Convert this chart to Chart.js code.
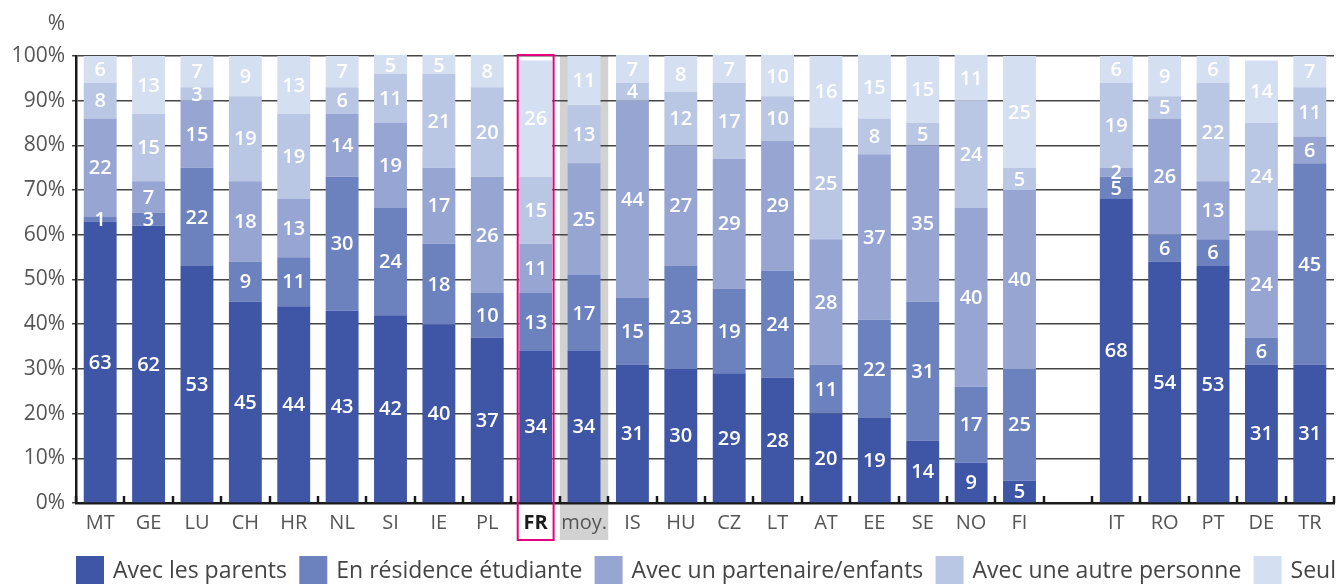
<!DOCTYPE html>
<html lang="fr">
<head>
<meta charset="utf-8">
<title>Mode de logement des étudiants</title>
<script src="https://cdn.jsdelivr.net/npm/chart.js@4.4.1/dist/chart.umd.min.js"></script>
<style>
  html, body { margin: 0; padding: 0; background: #fff; }
  #wrap { width: 1338px; height: 584px; position: relative; }
</style>
</head>
<body>
<div id="wrap"><canvas id="chart" width="1338" height="584"></canvas></div>
<script>
// Pays (un emplacement vide sépare les deux groupes)
const categories = ['MT','GE','LU','CH','HR','NL','SI','IE','PL','FR','moy.','IS','HU','CZ','LT','AT','EE','SE','NO','FI','','IT','RO','PT','DE','TR'];

// Parts en % par mode de logement
const avecParents        = [63,62,53,45,44,43,42,40,37,34,34,31,30,29,28,20,19,14, 9, 5,null,68,54,53,31,31];
const residenceEtudiante = [ 1, 3,22, 9,11,30,24,18,10,13,17,15,23,19,24,11,22,31,17,25,null, 5, 6, 6, 6,45];
const partenaireEnfants  = [22, 7,15,18,13,14,19,17,26,11,25,44,27,29,29,28,37,35,40,40,null, 2,26,13,24, 6];
const autrePersonne      = [ 8,15, 3,19,19, 6,11,21,20,15,13, 4,12,17,10,25, 8, 5,24, 5,null,19, 5,22,24,11];
const seul               = [ 6,13, 7, 9,13, 7, 5, 5, 8,26,11, 7, 8, 7,10,16,15,15,11,25,null, 6, 9, 6,14, 7];

const seriesLabels = ['Avec les parents','En résidence étudiante','Avec un partenaire/enfants','Avec une autre personne','Seul'];
const seriesColors = ['#3f56a6','#6c82bf','#97a5d3','#b9c7e5','#d4dff1'];

const yTicks = [0,10,20,30,40,50,60,70,80,90,100];

const FONT = "'Open Sans', 'Noto Sans', sans-serif";
const highlighted = 'FR';
const average = 'moy.';

// Fond gris de la colonne moyenne, sous la grille
const averageBand = {
  id: 'averageBand',
  beforeDraw(chart) {
    const idx = categories.indexOf(average);
    const x = chart.scales.x;
    const slot = x.width / categories.length;
    const cx = x.getPixelForValue(idx);
    const ctx = chart.ctx;
    ctx.save();
    ctx.fillStyle = '#d2d2d2';
    ctx.fillRect(cx - slot / 2, chart.chartArea.top, slot, chart.chartArea.bottom + 37 - chart.chartArea.top);
    ctx.restore();
  }
};

// Petits traits verticaux entre les colonnes, au-dessus de l'axe
const slotTicks = {
  id: 'slotTicks',
  afterDatasetsDraw(chart) {
    const x = chart.scales.x;
    const slot = x.width / categories.length;
    const b = chart.chartArea.bottom;
    const ctx = chart.ctx;
    ctx.save();
    ctx.strokeStyle = '#1a1a1a';
    ctx.lineWidth = 2.5;
    for (let i = 0; i <= categories.length; i++) {
      const px = Math.round(x.left + i * slot);
      ctx.beginPath();
      ctx.moveTo(px, b - 7);
      ctx.lineTo(px, b);
      ctx.stroke();
    }
    ctx.restore();
  }
};

// Valeurs écrites au centre de chaque segment
const segmentValues = {
  id: 'segmentValues',
  afterDatasetsDraw(chart) {
    const ctx = chart.ctx;
    const top = chart.chartArea.top;
    ctx.save();
    ctx.font = `600 20px ${FONT}`;
    ctx.fillStyle = '#ffffff';
    ctx.textAlign = 'center';
    ctx.textBaseline = 'middle';
    chart.data.datasets.forEach((ds, d) => {
      const meta = chart.getDatasetMeta(d);
      meta.data.forEach((el, i) => {
        const v = ds.data[i];
        if (v === null || v === undefined) return;
        const y0 = Math.max(el.y, top);
        const cy = (y0 + el.base) / 2;
        ctx.fillText(String(v), el.x, cy + 1);
      });
    });
    ctx.restore();
  }
};

// Cadre de la France, titre d'axe et légende
const overlay = {
  id: 'overlay',
  afterDraw(chart) {
    const ctx = chart.ctx;
    const area = chart.chartArea;
    ctx.save();

    // cadre rose
    const idx = categories.indexOf(highlighted);
    const el = chart.getDatasetMeta(0).data[idx];
    ctx.strokeStyle = '#e5007d';
    ctx.lineWidth = 2;
    const l = el.x - el.width / 2 - 1.5;
    const r = el.x + el.width / 2 + 1.5;
    ctx.strokeRect(l, area.top - 1, r - l, area.bottom + 37 - area.top + 1);

    // unité de l'axe
    ctx.font = `21px ${FONT}`;
    ctx.fillStyle = '#555555';
    ctx.textAlign = 'right';
    ctx.textBaseline = 'middle';
    ctx.fillText('%', area.left - 11, 24);

    // légende
    ctx.font = `23px ${FONT}`;
    ctx.textAlign = 'left';
    ctx.textBaseline = 'alphabetic';
    const box = 28, gapText = 9;
    const widths = seriesLabels.map(s => ctx.measureText(s).width);
    const used = widths.reduce((a, w) => a + w + box + gapText, 0);
    const startX = area.left;
    const endX = 1336;
    const gap = (endX - startX - used) / (seriesLabels.length - 1);
    let x = startX;
    seriesLabels.forEach((s, i) => {
      ctx.fillStyle = seriesColors[i];
      ctx.fillRect(x, 556, box, box);
      ctx.fillStyle = '#444444';
      ctx.fillText(s, x + box + gapText, 578);
      x += box + gapText + widths[i] + gap;
    });
    ctx.restore();
  }
};

const seriesData = [avecParents, residenceEtudiante, partenaireEnfants, autrePersonne, seul];

new Chart(document.getElementById('chart'), {
  type: 'bar',
  data: {
    labels: categories,
    datasets: seriesData.map((arr, i) => ({
      label: seriesLabels[i],
      data: arr,
      backgroundColor: seriesColors[i],
      borderWidth: 0,
      barPercentage: 0.68,
      categoryPercentage: 1,
      clip: { left: 0, right: 0, top: 1, bottom: 0 }
    }))
  },
  options: {
    responsive: false,
    animation: false,
    layout: { padding: { top: 56, left: 0, right: 4, bottom: 0 } },
    plugins: {
      legend: { display: false },
      tooltip: { enabled: false }
    },
    scales: {
      x: {
        stacked: true,
        offset: true,
        afterFit(scale) { scale.height = 81; },
        grid: { display: true, drawOnChartArea: false, drawTicks: false, color: 'rgba(0,0,0,0)' },
        border: { display: true, color: '#1a1a1a', width: 2.5 },
        ticks: {
          padding: 8,
          autoSkip: false,
          maxRotation: 0,
          color: ctx => categories[ctx.index] === highlighted ? '#1a1a1a' : '#555555',
          font: ctx => categories[ctx.index] === highlighted
            ? { family: FONT, size: 20, weight: '700' }
            : { family: FONT, size: 20, weight: '400' }
        }
      },
      y: {
        stacked: true,
        min: 0,
        max: 100,
        afterFit(scale) { scale.width = 76; },
        afterBuildTicks(scale) { scale.ticks = yTicks.map(v => ({ value: v })); },
        grid: { color: '#444444', lineWidth: 1.5, tickLength: 4 },
        border: { display: true, color: '#1a1a1a', width: 2.5 },
        ticks: {
          padding: 7,
          color: '#555555',
          font: { family: FONT, size: 21 },
          callback: v => v + '%'
        }
      }
    }
  },
  plugins: [averageBand, slotTicks, segmentValues, overlay]
});
</script>
</body>
</html>
